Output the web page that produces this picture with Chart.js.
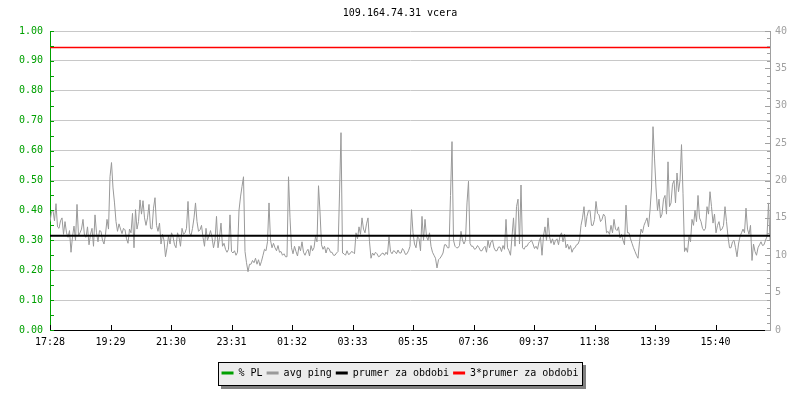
<!DOCTYPE html>
<html lang="cs">
<head>
  <meta charset="UTF-8">
  <title>109.164.74.31 vcera</title>
  <script src="https://cdn.jsdelivr.net/npm/chart.js"></script>
  <style>
    html, body { margin: 0; padding: 0; background: #fff; }
    #wrap { width: 800px; height: 400px; }
  </style>
</head>
<body>
<div id="wrap"><canvas id="pingChart" width="800" height="400"></canvas></div>
<script>
  // popisky casove osy (kazdych 121 minut od 17:28)
  const tickLabels = ['17:28', '19:29', '21:30', '23:31', '01:32', '03:33',
                      '05:35', '07:36', '09:37', '11:38', '13:39', '15:40'];
  const tickStepMinutes = 121;
  const periodMinutes = 1440;
  const sampleMinutes = 3;   // jeden vzorek kazde 3 minuty

  // avg ping [ms] (dvojice hodnot na 6 minut)
  const pingValues = [
    14.5, 15.8, 16.0, 14.6, 16.9, 13.8, 13.6, 14.6, 15.0, 12.8,
    14.5, 13.0, 12.4, 13.3, 10.4, 12.5, 13.9, 12.0, 16.8, 12.6,
    13.0, 13.5, 14.8, 12.6, 12.4, 13.8, 11.4, 12.8, 13.6, 11.2,
    15.4, 13.0, 11.8, 13.3, 13.2, 12.0, 11.5, 12.8, 14.8, 13.5,
    20.5, 22.4, 19.0, 17.0, 14.5, 13.2, 14.2, 13.5, 12.9, 13.6,
    13.4, 12.2, 11.6, 13.5, 13.0, 15.6, 11.0, 16.1, 13.5, 14.5,
    17.4, 15.5, 17.3, 15.0, 14.0, 15.0, 16.8, 13.6, 13.5, 16.3,
    17.7, 14.0, 13.2, 14.3, 11.5, 12.8, 12.0, 9.8, 11.0, 12.6,
    11.5, 13.0, 12.5, 11.4,
    11.0, 13.0, 12.4, 11.2, 13.6, 12.8, 13.0, 13.6, 17.2, 13.0,
    12.6, 13.6, 15.0, 17.0, 14.5, 13.2, 13.4, 14.0, 12.4, 11.2,
    13.6, 12.0, 12.6, 13.3, 12.4, 11.0, 12.0, 15.2, 11.0, 12.4,
    14.3, 11.2, 11.6, 10.8, 10.4, 10.8, 15.4, 10.5, 10.3, 10.6,
    10.0, 10.4, 16.0, 17.8, 19.2, 20.5, 10.5, 9.0, 7.8, 8.8,
    8.8, 9.3, 9.0, 9.6, 8.8, 9.4, 8.6, 9.2, 10.0, 10.8,
    10.6, 11.8, 17.0, 12.0, 11.0, 11.6, 11.0, 10.6, 11.3, 10.4,
    10.5, 10.0, 10.2, 9.8, 9.8, 20.5, 15.0, 11.0,
    10.2, 11.2, 10.5, 9.9, 11.2, 10.6, 11.8, 10.4, 10.0, 10.5,
    10.8, 9.9, 11.3, 10.6, 11.0, 12.5, 11.8, 19.3, 15.8, 11.4,
    10.8, 11.2, 10.3, 11.0, 10.9, 10.4, 10.4, 10.0, 10.0, 10.3,
    10.5, 18.2, 26.4, 10.3, 10.2, 10.0, 10.6, 10.1, 10.2, 10.5,
    10.4, 10.2, 13.0, 12.2, 13.8, 12.8, 15.0, 13.5, 13.0, 14.2,
    15.0, 11.8, 9.6, 10.3, 10.0, 10.4, 10.2, 9.8, 9.9, 10.2,
    10.3, 10.0, 10.4, 10.1, 12.5, 10.5, 10.2, 10.6, 10.5, 10.2,
    10.7, 10.3, 10.3, 10.9, 10.6, 10.1, 10.2, 10.6, 11.2, 16.1,
    13.0, 11.5, 11.0, 12.5, 12.2, 10.6, 15.2, 12.0, 14.8, 12.5,
    12.0, 13.0, 11.2, 10.4, 10.0, 9.6, 8.3, 9.4, 9.6, 9.9,
    10.3, 11.4, 11.4, 11.0, 11.0, 18.0, 25.2, 12.0, 11.2, 11.0,
    11.0, 11.3, 13.2, 12.0, 11.5, 12.0, 17.0, 19.9, 11.6, 11.2,
    11.2, 10.8, 10.9, 11.3, 11.0, 10.6, 10.6, 11.0, 11.2, 10.4,
    12.0, 11.0, 11.8, 12.0, 11.0, 10.6, 10.6, 11.1, 11.1, 10.5,
    11.3, 10.8, 14.8, 11.0, 10.6, 10.0, 12.5, 15.0, 11.2, 16.5,
    17.5, 11.5, 19.4, 11.0, 10.8, 11.2, 11.2, 11.6, 11.8, 12.0,
    11.5, 10.9,
    11.2, 10.8, 11.8, 12.4, 10.0, 12.6, 13.8, 12.0, 15.0, 12.5,
    11.6, 12.2, 11.4, 12.0, 12.2, 11.4, 12.6, 13.0, 11.8, 12.8,
    11.0, 11.5, 10.8, 11.3, 10.4, 10.9, 11.0, 11.4, 11.5, 12.0,
    14.0, 15.0, 16.5, 13.8, 15.2, 16.0, 16.0, 14.0, 14.0, 14.8,
    17.2, 15.6, 15.4, 14.5, 14.8, 15.5, 15.2, 13.0, 13.2, 12.8,
    14.0, 13.0, 14.8, 13.5, 13.3, 13.8, 12.3, 12.8, 12.0, 11.4,
    16.7, 13.0, 13.0, 12.2, 11.6, 11.0, 10.5, 10.0, 9.6, 11.8,
    13.5, 13.0, 14.0, 14.5, 15.0, 13.8, 16.0, 19.0, 27.2, 23.0,
    19.0, 16.0, 17.5, 15.0, 15.5, 17.5, 18.0, 15.5, 22.5, 16.5,
    17.0, 19.5, 20.0, 17.0, 21.0, 18.5, 20.0, 24.8, 18.3, 10.5,
    11.0, 10.4, 12.5, 11.8, 14.8, 14.0, 16.0, 14.5, 18.0, 15.0,
    14.5, 13.6, 13.3, 13.6, 16.5, 15.5, 18.5, 16.5, 14.3, 15.5,
    13.0, 14.0, 14.5, 13.3, 13.5, 14.0, 16.5, 14.5, 12.5, 11.0,
    11.0, 11.8, 12.0, 11.0, 9.8, 11.5, 12.5, 13.0, 13.5, 13.0,
    16.3, 13.5, 12.8, 14.0, 9.3, 11.5, 10.5, 10.0, 11.0, 11.4,
    11.8, 11.3, 11.4, 12.0, 12.5, 17.0, 12.0
  ];
  const plValues = [];          // % PL - zadna ztrata v grafu
  const meanPing = 12.6;        // prumer za obdobi
  const tripleMeanPing = 37.8;  // 3*prumer za obdobi

  const green = '#00a000';
  const gray = '#a0a0a0';

  Chart.defaults.font.family = "'DejaVu Sans Mono', monospace";
  Chart.defaults.font.size = 10;

  const pingPoints = pingValues.map((v, i) => ({ x: i * sampleMinutes, y: v }));

  // ramecek se stinem za legendou
  const legendBox = {
    id: 'legendBox',
    beforeDraw(chart) {
      const hb = chart.legend && chart.legend.legendHitBoxes;
      if (!hb || !hb.length) return;
      const ctx = chart.ctx;
      const last = hb[hb.length - 1];
      const l = Math.round(hb[0].left) - 4;
      const r = Math.round(last.left + last.width) + 5;
      const t = Math.round(hb[0].top) - 6;
      const b = Math.round(hb[0].top + hb[0].height) + 8;
      ctx.save();
      ctx.fillStyle = '#808080';
      ctx.fillRect(l + 3, t + 3, r - l, b - t);
      ctx.fillStyle = '#ececec';
      ctx.fillRect(l, t, r - l, b - t);
      ctx.strokeStyle = '#000';
      ctx.lineWidth = 1;
      ctx.strokeRect(l + 0.5, t + 0.5, r - l - 1, b - t - 1);
      ctx.restore();
    }
  };

  // kratke znacky smerem dovnitr grafu
  const innerTicks = {
    id: 'innerTicks',
    afterDraw(chart) {
      const { ctx, chartArea: a, scales } = chart;
      ctx.save();
      ctx.lineWidth = 1;
      const hline = (x1, x2, py) => {
        ctx.beginPath(); ctx.moveTo(x1, py); ctx.lineTo(x2, py); ctx.stroke();
      };
      ctx.strokeStyle = green;
      for (let k = 0; k <= 20; k++) {
        const py = Math.round(scales.y.getPixelForValue(k / 20)) + 0.5;
        hline(a.left, a.left + 4, py);
      }
      ctx.strokeStyle = gray;
      for (let k = 0; k <= 40; k++) {
        const py = Math.round(scales.y1.getPixelForValue(k)) + 0.5;
        hline(a.right - (k % 5 === 0 ? 5 : 3), a.right, py);
      }
      ctx.strokeStyle = '#000';
      scales.x.ticks.forEach(t => {
        const px = Math.round(scales.x.getPixelForValue(t.value)) + 0.5;
        ctx.beginPath(); ctx.moveTo(px, a.bottom); ctx.lineTo(px, a.bottom - 5); ctx.stroke();
      });
      ctx.restore();
    }
  };

  const ctx = document.getElementById('pingChart').getContext('2d');
  const pingChart = new Chart(ctx, {
    type: 'line',
    data: {
      datasets: [
        { label: '% PL', data: plValues, yAxisID: 'y', borderColor: green, backgroundColor: green, borderWidth: 1, order: 3 },
        { label: 'avg ping', data: pingPoints, yAxisID: 'y1', borderColor: '#999999', backgroundColor: '#999999', borderWidth: 1, order: 2 },
        { label: 'prumer za obdobi', data: [{ x: 0, y: meanPing }, { x: periodMinutes, y: meanPing }],
          yAxisID: 'y1', borderColor: '#000', backgroundColor: '#000', borderWidth: 2, order: 0 },
        { label: '3*prumer za obdobi', data: [{ x: 0, y: tripleMeanPing }, { x: periodMinutes, y: tripleMeanPing }],
          yAxisID: 'y1', borderColor: '#ff0000', backgroundColor: '#ff0000', borderWidth: 1.5, order: 1 }
      ]
    },
    options: {
      responsive: false,
      animation: false,
      events: [],
      elements: { point: { radius: 0 }, line: { tension: 0 } },
      layout: { padding: { bottom: 12 } },
      scales: {
        x: {
          type: 'linear', min: 0, max: periodMinutes,
          afterBuildTicks: s => { s.ticks = tickLabels.map((t, i) => ({ value: i * tickStepMinutes })); },
          ticks: { callback: (v, i) => tickLabels[i], color: '#000', padding: 6, maxRotation: 0, autoSkip: false },
          grid: { display: false, drawTicks: false },
          border: { color: '#000' },
          afterFit: s => { s.height = 34; }
        },
        y: {
          position: 'left', min: 0, max: 1,
          ticks: { stepSize: 0.1, color: green, padding: 7, callback: v => v.toFixed(2) },
          grid: { color: '#c8c8c8', drawTicks: false },
          border: { color: green },
          afterFit: s => { s.width = 50; }
        },
        y1: {
          position: 'right', min: 0, max: 40,
          ticks: { stepSize: 5, color: gray, padding: 5 },
          grid: { display: false, drawTicks: false },
          border: { color: gray },
          afterFit: s => { s.width = 30; }
        }
      },
      plugins: {
        title: {
          display: true, text: '109.164.74.31 vcera', color: '#000',
          font: { size: 10, weight: 'normal' }, padding: { top: 7, bottom: 12 }
        },
        legend: {
          position: 'bottom',
          labels: {
            usePointStyle: true, pointStyle: 'line', pointStyleWidth: 12, padding: 4, color: '#000',
            sort: (a, b) => a.datasetIndex - b.datasetIndex,
            generateLabels: chart => Chart.defaults.plugins.legend.labels.generateLabels(chart)
              .map(item => Object.assign(item, { lineWidth: 3 }))
          }
        },
        tooltip: { enabled: false }
      }
    },
    plugins: [legendBox, innerTicks]
  });
</script>
</body>
</html>
